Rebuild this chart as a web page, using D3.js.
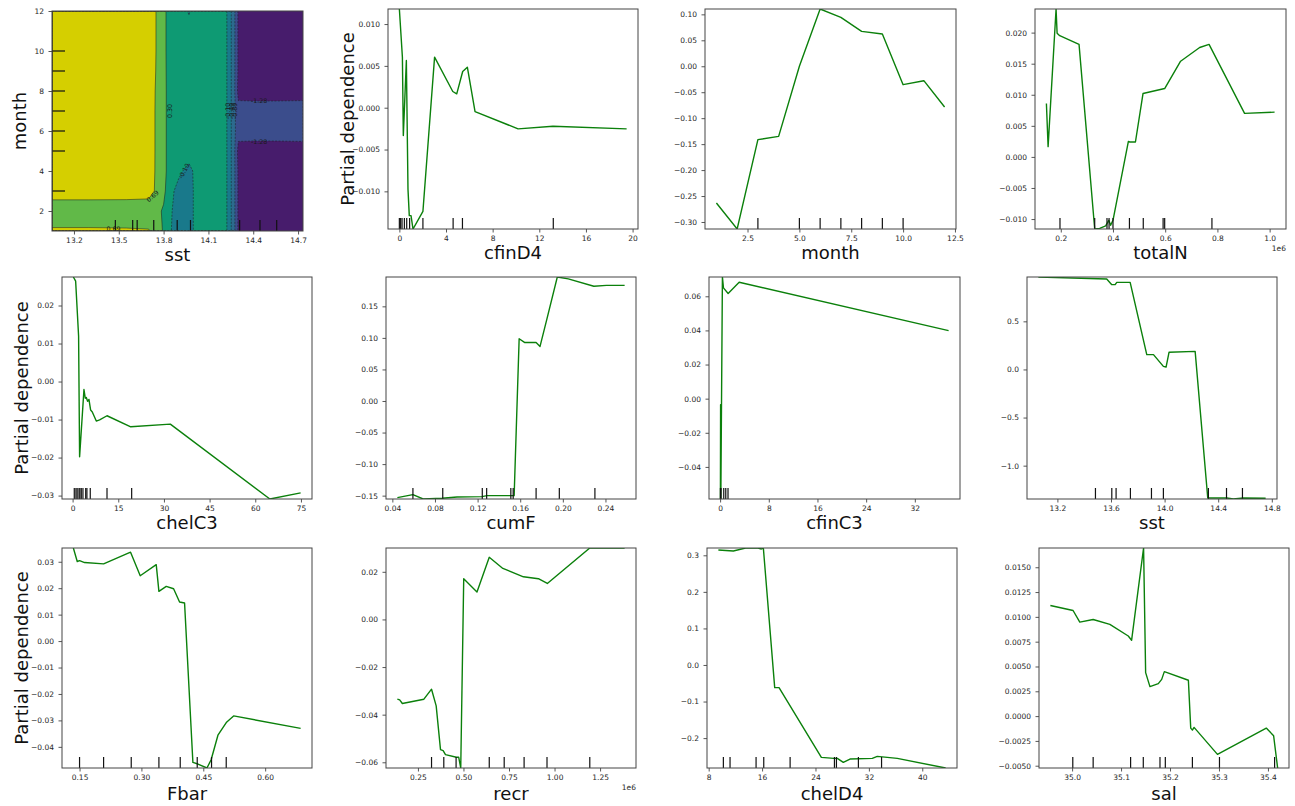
<!DOCTYPE html>
<html>
<head>
<meta charset="utf-8">
<script src="https://cdn.jsdelivr.net/npm/d3@7"></script>
<style>
  body { margin: 0; background: #fff; }
  svg { display: block; }
  text { font-family: "DejaVu Sans", sans-serif; }
</style>
</head>
<body>
<svg id="fig" width="1295" height="806"></svg>
<script>
// ---------------- two-way partial dependence: sst x month ----------------
const contourSst = [13.053, 13.30, 13.55, 13.70, 13.76, 13.80, 13.84, 13.90, 13.97, 14.02, 14.10, 14.20, 14.24, 14.27, 14.30, 14.40, 14.55, 14.733];
const contourMonth = [1, 2, 3, 4, 5, 6, 7, 8, 9, 10, 11, 12];
// one row per month, one column per sst grid value
const contourPd = [
  [0.75, 0.75, 0.74, 0.72, 0.50, 0.25, -0.05, -0.30, -0.30, 0.05, 0.17, 0.18, -0.30, -0.75, -1.34, -1.34, -1.35, -1.34],
  [0.40, 0.40, 0.40, 0.40, 0.38, 0.25, -0.02, -0.30, -0.30, 0.05, 0.17, 0.18, -0.30, -0.75, -1.34, -1.34, -1.35, -1.34],
  [0.92, 0.92, 0.91, 0.88, 0.58, 0.40, 0.05, -0.25, -0.30, 0.05, 0.17, 0.18, -0.30, -0.75, -1.34, -1.34, -1.35, -1.34],
  [0.93, 0.93, 0.92, 0.89, 0.60, 0.42, 0.15, 0.00, -0.25, 0.05, 0.17, 0.18, -0.30, -0.75, -1.34, -1.34, -1.35, -1.34],
  [0.94, 0.94, 0.93, 0.90, 0.60, 0.42, 0.15, 0.15, 0.15, 0.17, 0.18, 0.18, -0.30, -0.75, -1.40, -1.40, -1.40, -1.40],
  [0.95, 0.95, 0.94, 0.90, 0.60, 0.42, 0.15, 0.15, 0.08, 0.17, 0.18, 0.18, -0.30, -0.75, -1.15, -1.16, -1.16, -1.15],
  [0.95, 0.95, 0.94, 0.90, 0.60, 0.42, 0.15, 0.15, 0.08, 0.17, 0.18, 0.18, -0.30, -0.75, -1.15, -1.16, -1.16, -1.15],
  [0.95, 0.95, 0.94, 0.90, 0.61, 0.42, 0.15, 0.15, 0.08, 0.17, 0.18, 0.18, -0.30, -0.75, -1.40, -1.40, -1.40, -1.40],
  [0.95, 0.95, 0.94, 0.91, 0.63, 0.41, 0.15, 0.15, 0.08, 0.17, 0.18, 0.18, -0.30, -0.75, -1.34, -1.34, -1.35, -1.34],
  [0.95, 0.95, 0.94, 0.91, 0.64, 0.40, 0.15, 0.15, 0.08, 0.17, 0.18, 0.18, -0.30, -0.75, -1.34, -1.34, -1.35, -1.34],
  [0.95, 0.95, 0.94, 0.91, 0.64, 0.40, 0.15, 0.15, 0.05, 0.17, 0.18, 0.18, -0.30, -0.75, -1.34, -1.34, -1.35, -1.34],
  [0.95, 0.95, 0.94, 0.91, 0.64, 0.40, 0.15, 0.15, -0.14, 0.17, 0.18, 0.18, -0.30, -0.75, -1.34, -1.34, -1.35, -1.34]
];
const contourLevels = [-1.68, -1.28, -0.89, -0.49, -0.10, 0.30, 0.69, 1.09];
const contourColors = ["#471c6c", "#3b4d8c", "#2c6b8e", "#19798b", "#0e9a73", "#61b948", "#d5cf00"];
const sstDeciles = [13.477, 13.593, 13.623, 13.734, 13.891, 13.980, 14.309, 14.445, 14.557];
const monthDeciles = [3, 5, 6, 7, 8, 9, 10];
const contourXTicks = [13.2, 13.5, 13.8, 14.1, 14.4, 14.7];
const contourYTicks = [2, 4, 6, 8, 10, 12];
const contourLabels = [
  { level: 0.30, sst: 13.84, month: 7.0, angle: -90 },
  { level: 0.69, sst: 13.725, month: 2.75, angle: -40 },
  { level: 0.69, sst: 13.465, month: 1.12, angle: 0 },
  { level: -0.10, sst: 13.935, month: 4.0, angle: -62 },
  { level: -1.28, sst: 14.44, month: 7.55, angle: 0 },
  { level: -1.28, sst: 14.44, month: 5.5, angle: 0 },
  { level: -0.10, sst: 14.228, month: 7.0, angle: -90 },
  { level: -0.49, sst: 14.252, month: 7.0, angle: -90 },
  { level: -0.89, sst: 14.274, month: 7.0, angle: -90 }
];

// ---------------- one-way partial dependence curves ----------------
const cfinD4X = [0, 0.26, 0.34, 0.60, 0.74, 0.85, 1.00, 1.17, 2.02, 3.02, 4.58, 4.92, 5.43, 5.83, 6.49, 10.18, 13.17, 19.49];
const cfinD4Y = [0.0118, 0.00605, -0.00333, 0.00565, -0.00976, -0.0129, -0.0129, -0.0145, -0.0124, 0.00605, 0.00194, 0.00166, 0.00433, 0.00485, -0.00046, -0.00253, -0.00221, -0.00253];
const cfinD4Deciles = [0, 0.11, 0.23, 0.43, 0.63, 0.88, 2.02, 4.61, 5.41, 13.2];

const monthX = [1, 2, 3, 4, 5, 6, 7, 8, 9, 10, 11, 12];
const monthY = [-0.2634, -0.3135, -0.1414, -0.135, 0.0, 0.1103, 0.0942, 0.0673, 0.0621, -0.0355, -0.0278, -0.0785];
const monthDecilesLine = [3, 5, 6, 7, 8, 9, 10];

const totalNX = [145000, 151500, 182000, 186000, 196000, 270000, 330000, 349000, 372000, 384000, 391000, 400000, 459000, 464000, 486000, 515000, 598000, 659000, 732000, 768000, 904000, 1019000];
const totalNY = [0.0086, 0.00165, 0.0238, 0.0199, 0.0195, 0.0181, -0.0116, -0.0115, -0.0111, -0.0102, -0.0110, -0.0102, 0.0025, 0.0024, 0.0024, 0.0102, 0.0110, 0.0154, 0.0176, 0.0181, 0.0070, 0.0072];
const totalNDeciles = [197000, 330000, 377000, 385000, 400000, 463000, 516000, 592000, 598000, 779000];

const chelC3X = [0.25, 1.0, 1.97, 2.3, 3.73, 4.17, 4.5, 4.93, 5.37, 5.92, 6.47, 7.78, 8.88, 11.3, 19.1, 32.1, 64.8, 74.9];
const chelC3Y = [0.0275, 0.0264, 0.0119, -0.0198, -0.0021, -0.0044, -0.0042, -0.0052, -0.0047, -0.0075, -0.0080, -0.0104, -0.0101, -0.0090, -0.0119, -0.0112, -0.0309, -0.0293];
const chelC3Deciles = [0.55, 1.1, 1.5, 2.1, 2.4, 2.85, 3.4, 4.3, 4.7, 5.8, 11.3, 19.4];

const cumFX = [0.0447, 0.0593, 0.0689, 0.0867, 0.1007, 0.1241, 0.1288, 0.1522, 0.1543, 0.159, 0.164, 0.1749, 0.1786, 0.1849, 0.1948, 0.2051, 0.2291, 0.2409, 0.258];
const cumFY = [-0.1532, -0.1484, -0.1553, -0.1542, -0.1521, -0.1516, -0.150, -0.150, -0.150, 0.0986, 0.0928, 0.0928, 0.0865, 0.1289, 0.1965, 0.1935, 0.1819, 0.1833, 0.1833];
const cumFDeciles = [0.0593, 0.0873, 0.1244, 0.1285, 0.1512, 0.1534, 0.1749, 0.1967, 0.2301];

const cfinC3X = [0.05, 0.08, 0.12, 0.38, 0.55, 1.32, 3.13, 37.55];
const cfinC3Y = [-0.0588, -0.0035, -0.0588, 0.0713, 0.0649, 0.0616, 0.0682, 0.0399];
const cfinC3Deciles = [0.05, 0.15, 0.6, 0.93, 1.3];

const sstX = [13.058, 13.568, 13.606, 13.631, 13.643, 13.743, 13.867, 13.917, 13.991, 14.011, 14.033, 14.228, 14.322, 14.464, 14.513, 14.588, 14.754];
const sstY = [0.9607, 0.940, 0.881, 0.881, 0.905, 0.905, 0.154, 0.154, 0.032, 0.025, 0.178, 0.188, -1.336, -1.336, -1.3464, -1.336, -1.339];
const sstDecilesLine = [13.484, 13.606, 13.638, 13.745, 13.902, 13.991, 14.327, 14.462, 14.581];

const fbarX = [0.135, 0.1444, 0.150, 0.1622, 0.2083, 0.2737, 0.2971, 0.3359, 0.3424, 0.3602, 0.3780, 0.3925, 0.4046, 0.4248, 0.4370, 0.4588, 0.469, 0.4855, 0.5057, 0.5235, 0.686];
const fbarY = [0.0352, 0.0301, 0.0304, 0.0297, 0.0292, 0.0336, 0.0247, 0.0289, 0.0188, 0.0207, 0.0198, 0.0148, 0.0144, -0.0459, -0.0465, -0.0480, -0.0449, -0.0356, -0.0308, -0.0283, -0.0330];
const fbarDeciles = [0.150, 0.2083, 0.2753, 0.3424, 0.3941, 0.4353, 0.4700, 0.5056];

const recrX = [137100, 149800, 164400, 282800, 324700, 350200, 373900, 388400, 401200, 461300, 474000, 485000, 501400, 574200, 641600, 716300, 829200, 911200, 960400, 1193500, 1384800];
const recrY = [-0.0335, -0.0338, -0.0353, -0.0335, -0.0293, -0.0363, -0.0547, -0.0551, -0.0568, -0.0579, -0.0579, -0.0624, 0.0171, 0.0115, 0.0261, 0.0214, 0.0179, 0.0171, 0.0151, 0.0300, 0.0300];
const recrDeciles = [324700, 392000, 459500, 641600, 723600, 832900, 958600, 1193500];

const chelD4X = [9.45, 11.69, 13.54, 15.39, 15.89, 16.19, 17.89, 18.54, 24.88, 26.77, 27.27, 28.17, 29.17, 32.51, 33.26, 36.26, 43.5];
const chelD4Y = [0.3145, 0.3118, 0.320, 0.320, 0.3173, 0.320, -0.0618, -0.0618, -0.2527, -0.2555, -0.2555, -0.2664, -0.2573, -0.2555, -0.250, -0.2555, -0.2818];
const chelD4Deciles = [10.2, 11.2, 15.1, 16.25, 20.2, 26.84, 27.14, 30.43, 33.9];

const salX = [34.9556, 35.0020, 35.0157, 35.0430, 35.0771, 35.1147, 35.1215, 35.1460, 35.1502, 35.1590, 35.1761, 35.1830, 35.1884, 35.2375, 35.2423, 35.2457, 35.2491, 35.2969, 35.3966, 35.4116, 35.4198];
const salY = [0.01115, 0.01064, 0.00947, 0.00973, 0.00924, 0.00807, 0.00764, 0.01694, 0.00438, 0.00297, 0.00327, 0.0037, 0.00448, 0.00361, -0.00121, -0.00141, -0.00114, -0.00386, -0.00121, -0.00198, -0.00523];
const salDeciles = [35.0014, 35.043, 35.1195, 35.1454, 35.1795, 35.1904, 35.2457, 35.3010, 35.4136];

// ---------------- panel setup ----------------
const svg = d3.select("#fig");
const LINE_COLOR = "#0b800b";
const SPINE = "#444";
const TICK_TEXT = "#262626";
const TICK_FONT = 7.5;
const LABEL_FONT = 18;

const panels = [
  { id: "cfinD4", xs: cfinD4X, ys: cfinD4Y, rug: cfinD4Deciles, box: [388, 9, 250, 220],
    xTicks: [0, 4, 8, 12, 16, 20], xFmt: "d", yTicks: [-0.010, -0.005, 0, 0.005, 0.010], yFmt: ".3f", ylabel: true },
  { id: "month", xs: monthX, ys: monthY, rug: monthDecilesLine, box: [705, 9, 251, 220],
    xTicks: [2.5, 5, 7.5, 10, 12.5], xFmt: ".1f", yTicks: [-0.30, -0.25, -0.20, -0.15, -0.10, -0.05, 0, 0.05, 0.10], yFmt: ".2f" },
  { id: "totalN", xs: totalNX, ys: totalNY, rug: totalNDeciles, box: [1035, 9, 251, 220], scale: 1e6,
    xTicks: [200000, 400000, 600000, 800000, 1000000], xFmt: ".1f", yTicks: [-0.010, -0.005, 0, 0.005, 0.010, 0.015, 0.020], yFmt: ".3f" },
  { id: "chelC3", xs: chelC3X, ys: chelC3Y, rug: chelC3Deciles, box: [62, 277, 250, 222],
    xTicks: [0, 15, 30, 45, 60, 75], xFmt: "d", yTicks: [-0.03, -0.02, -0.01, 0, 0.01, 0.02], yFmt: ".2f", ylabel: true },
  { id: "cumF", xs: cumFX, ys: cumFY, rug: cumFDeciles, box: [386, 277, 250, 222],
    xTicks: [0.04, 0.08, 0.12, 0.16, 0.20, 0.24], xFmt: ".2f", yTicks: [-0.15, -0.10, -0.05, 0, 0.05, 0.10, 0.15], yFmt: ".2f" },
  { id: "cfinC3", xs: cfinC3X, ys: cfinC3Y, rug: cfinC3Deciles, box: [709, 277, 251, 222],
    xTicks: [0, 8, 16, 24, 32], xFmt: "d", yTicks: [-0.04, -0.02, 0, 0.02, 0.04, 0.06], yFmt: ".2f" },
  { id: "sst", xs: sstX, ys: sstY, rug: sstDecilesLine, box: [1027, 277, 250, 222],
    xTicks: [13.2, 13.6, 14.0, 14.4, 14.8], xFmt: ".1f", yTicks: [-1.0, -0.5, 0, 0.5], yFmt: ".1f" },
  { id: "Fbar", xs: fbarX, ys: fbarY, rug: fbarDeciles, box: [62, 548, 250, 220],
    xTicks: [0.15, 0.30, 0.45, 0.60], xFmt: ".2f", yTicks: [-0.04, -0.03, -0.02, -0.01, 0, 0.01, 0.02, 0.03], yFmt: ".2f", ylabel: true, labelGap: 32 },
  { id: "recr", xs: recrX, ys: recrY, rug: recrDeciles, box: [386, 548, 250, 220], scale: 1e6,
    xTicks: [250000, 500000, 750000, 1000000, 1250000], xFmt: ".2f", yTicks: [-0.06, -0.04, -0.02, 0, 0.02], yFmt: ".2f", labelGap: 32 },
  { id: "chelD4", xs: chelD4X, ys: chelD4Y, rug: chelD4Deciles, box: [707, 548, 250, 220],
    xTicks: [8, 16, 24, 32, 40], xFmt: "d", yTicks: [-0.2, -0.1, 0, 0.1, 0.2, 0.3], yFmt: ".1f", labelGap: 32 },
  { id: "sal", xs: salX, ys: salY, rug: salDeciles, box: [1039, 548, 250, 220],
    xTicks: [35.0, 35.1, 35.2, 35.3, 35.4], xFmt: ".1f", yTicks: [-0.005, -0.0025, 0, 0.0025, 0.005, 0.0075, 0.010, 0.0125, 0.015], yFmt: ".4f", labelGap: 32 }
];

function styleAxis(g) {
  g.select(".domain").remove();
  g.selectAll(".tick line").attr("stroke", SPINE).attr("stroke-width", 0.9);
  g.selectAll(".tick text").attr("fill", TICK_TEXT).attr("font-size", TICK_FONT)
    .attr("font-family", "DejaVu Sans, sans-serif");
}

function frame(g, w, h) {
  g.append("rect").attr("width", w).attr("height", h)
    .attr("fill", "none").attr("stroke", SPINE).attr("stroke-width", 1);
}

// ---------------- line panels ----------------
panels.forEach((p) => {
  const [left, top, w, h] = p.box;
  const g = svg.append("g").attr("transform", `translate(${left},${top})`);
  const [x0, x1] = d3.extent(p.xs);
  const pad = (x1 - x0) * 0.05;
  const x = d3.scaleLinear().domain([x0 - pad, x1 + pad]).range([0, w]);
  const y = d3.scaleLinear().domain(d3.extent(p.ys)).range([h, 0]);
  const sc = p.scale || 1;

  const clipId = "clip-" + p.id;
  g.append("clipPath").attr("id", clipId).append("rect").attr("width", w).attr("height", h);

  const pts = p.xs.map((v, i) => [v, p.ys[i]]);
  g.append("path").datum(pts)
    .attr("clip-path", `url(#${clipId})`)
    .attr("fill", "none").attr("stroke", LINE_COLOR).attr("stroke-width", 1.4)
    .attr("stroke-linejoin", "round")
    .attr("d", d3.line().x(d => x(d[0])).y(d => y(d[1])));

  // decile rug
  g.selectAll("line.rug").data(p.rug).join("line").attr("class", "rug")
    .attr("x1", d => x(d)).attr("x2", d => x(d))
    .attr("y1", h).attr("y2", h - 11)
    .attr("stroke", "#111").attr("stroke-width", 1.2);

  const xa = d3.axisBottom(x).tickValues(p.xTicks).tickSize(3.5).tickPadding(3.5)
    .tickFormat(d => d3.format(p.xFmt)(d / sc));
  g.append("g").attr("transform", `translate(0,${h})`).call(xa).call(styleAxis);

  const ya = d3.axisLeft(y).tickValues(p.yTicks).tickSize(3.5).tickPadding(4.5)
    .tickFormat(d => d3.format(p.yFmt)(d));
  g.append("g").call(ya).call(styleAxis);

  frame(g, w, h);

  g.append("text").attr("x", w / 2).attr("y", h + (p.labelGap || 30))
    .attr("text-anchor", "middle").attr("font-size", LABEL_FONT).attr("fill", "#111")
    .text(p.id);

  if (p.ylabel) {
    g.append("text").attr("transform", `translate(-41,${h / 2}) rotate(-90)`)
      .attr("text-anchor", "middle").attr("dominant-baseline", "central")
      .attr("font-size", LABEL_FONT).attr("fill", "#111")
      .text("Partial dependence");
  }
  if (p.scale) {
    g.append("text").attr("x", w).attr("y", h + 22).attr("text-anchor", "end")
      .attr("font-size", TICK_FONT).attr("fill", TICK_TEXT).text("1e6");
  }
});

// ---------------- contour panel ----------------
(function () {
  const [left, top, w, h] = [52, 11, 251, 220];
  const g = svg.append("g").attr("transform", `translate(${left},${top})`);
  const x = d3.scaleLinear().domain(d3.extent(contourSst)).range([0, w]);
  const y = d3.scaleLinear().domain(d3.extent(contourMonth)).range([h, 0]);
  const n = contourSst.length, m = contourMonth.length;
  // grid index -> data coordinate (values sit at cell centres)
  const ix = d3.scaleLinear().domain(d3.range(n)).range(contourSst).clamp(true);
  const iy = d3.scaleLinear().domain(d3.range(m)).range(contourMonth).clamp(true);
  const values = contourPd.flat();

  const proj = d3.geoTransform({
    point: function (px, py) { this.stream.point(x(ix(px - 0.5)), y(iy(py - 0.5))); }
  });
  const path = d3.geoPath(proj);
  const gen = d3.contours().size([n, m]).thresholds(contourLevels.slice(0, 7));
  const polys = gen(values);

  g.append("clipPath").attr("id", "clip-contour").append("rect").attr("width", w).attr("height", h);
  const body = g.append("g").attr("clip-path", "url(#clip-contour)");

  body.selectAll("path.band").data(polys).join("path").attr("class", "band")
    .attr("d", path).attr("fill", (d, i) => contourColors[i]).attr("stroke", "none");

  body.selectAll("path.iso").data(polys.slice(1)).join("path").attr("class", "iso")
    .attr("d", path).attr("fill", "none").attr("stroke", "#1a1a1a").attr("stroke-width", 0.5)
    .attr("stroke-dasharray", d => d.value < 0 ? "2,1.4" : null);

  g.selectAll("text.clabel").data(contourLabels).join("text").attr("class", "clabel")
    .attr("transform", d => `translate(${x(d.sst)},${y(d.month)}) rotate(${d.angle})`)
    .attr("text-anchor", "middle").attr("dominant-baseline", "central")
    .attr("font-size", 6.3).attr("fill", "#1a1a1a")
    .text(d => d3.format(".2f")(d.level).replace("−", "-"));

  // decile rugs on both axes
  g.selectAll("line.rx").data(sstDeciles).join("line").attr("class", "rx")
    .attr("x1", d => x(d)).attr("x2", d => x(d)).attr("y1", h).attr("y2", h - 11)
    .attr("stroke", "#111").attr("stroke-width", 1.2);
  g.selectAll("line.ry").data(monthDeciles).join("line").attr("class", "ry")
    .attr("y1", d => y(d)).attr("y2", d => y(d)).attr("x1", 0).attr("x2", 13)
    .attr("stroke", "#111").attr("stroke-width", 1.2);

  g.append("g").attr("transform", `translate(0,${h})`)
    .call(d3.axisBottom(x).tickValues(contourXTicks).tickSize(3.5).tickPadding(3.5).tickFormat(d3.format(".1f")))
    .call(styleAxis);
  g.append("g")
    .call(d3.axisLeft(y).tickValues(contourYTicks).tickSize(3.5).tickPadding(4.5).tickFormat(d3.format("d")))
    .call(styleAxis);
  frame(g, w, h);

  g.append("text").attr("x", w / 2).attr("y", h + 30).attr("text-anchor", "middle")
    .attr("font-size", LABEL_FONT).attr("fill", "#111").text("sst");
  g.append("text").attr("transform", `translate(-33,${h / 2}) rotate(-90)`)
    .attr("text-anchor", "middle").attr("dominant-baseline", "central")
    .attr("font-size", LABEL_FONT).attr("fill", "#111").text("month");
})();
</script>
</body>
</html>
